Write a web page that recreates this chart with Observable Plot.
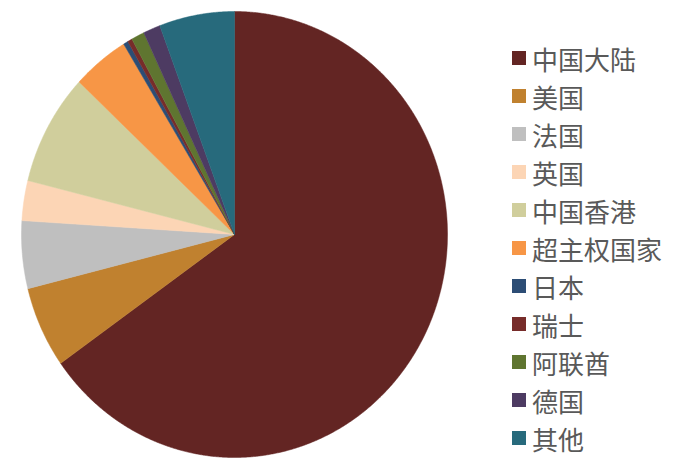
<!DOCTYPE html>
<html>
<head>
<meta charset="utf-8">
<script src="https://cdn.jsdelivr.net/npm/d3@7"></script>
<script src="https://cdn.jsdelivr.net/npm/@observablehq/plot@0.6"></script>
<style>
  body { margin: 0; background: #fff; }
  #wrap { position: relative; width: 677px; height: 464px; }
  #legend { position: absolute; left: 512px; top: 39px; font-family: "Noto Sans CJK SC", sans-serif; font-size: 26px; color: #595959; }
  .item { height: 38px; display: flex; align-items: center; }
  .sw { width: 14px; height: 14px; margin-right: 6px; flex: none; }
</style>
</head>
<body>
<div id="wrap"><div id="chart"></div><div id="legend"></div></div>
<script>
const categories = ["中国大陆", "美国", "法国", "英国", "中国香港", "超主权国家", "日本", "瑞士", "阿联酋", "德国", "其他"];
const shares = [65.2, 5.9, 4.9, 2.9, 8.1, 4.3, 0.36, 0.35, 1.0, 1.3, 5.7];
const colors = ["#632523", "#C0812F", "#BFBFBF", "#FCD5B5", "#D0CE9C", "#F79646", "#2C4D75", "#772C2A", "#5F7530", "#4D3B62", "#276A7C"];

const table = categories.map((name, i) => ({name, value: shares[i]}));
const arcs = d3.pie().value(d => d.value).sort(null).startAngle(0).endAngle(2 * Math.PI)(table);
const pts = [];
for (const a of arcs) {
  const name = a.data.name;
  pts.push({name, x: 0, y: 0});
  const n = Math.max(2, Math.ceil((a.endAngle - a.startAngle) / 0.005));
  for (let k = 0; k <= n; k++) {
    const t = a.startAngle + (a.endAngle - a.startAngle) * k / n;
    pts.push({name, x: Math.sin(t), y: Math.cos(t)});
  }
  pts.push({name, x: 0, y: 0});
}

const chart = Plot.plot({
  width: 677,
  height: 464,
  margin: 0,
  x: {domain: [-1, 1], range: [21, 447], axis: null},
  y: {domain: [-1, 1], range: [457, 11], axis: null},
  color: {domain: categories, range: colors},
  marks: [
    Plot.line(pts, {x: "x", y: "y", z: "name", fill: "name", stroke: "name", strokeWidth: 0.5, curve: "linear"})
  ]
});
document.getElementById("chart").appendChild(chart);

const legend = document.getElementById("legend");
categories.forEach((c, i) => {
  const div = document.createElement("div");
  div.className = "item";
  div.innerHTML = `<span class="sw" style="background:${colors[i]}"></span><span>${c}</span>`;
  legend.appendChild(div);
});
</script>
</body>
</html>
